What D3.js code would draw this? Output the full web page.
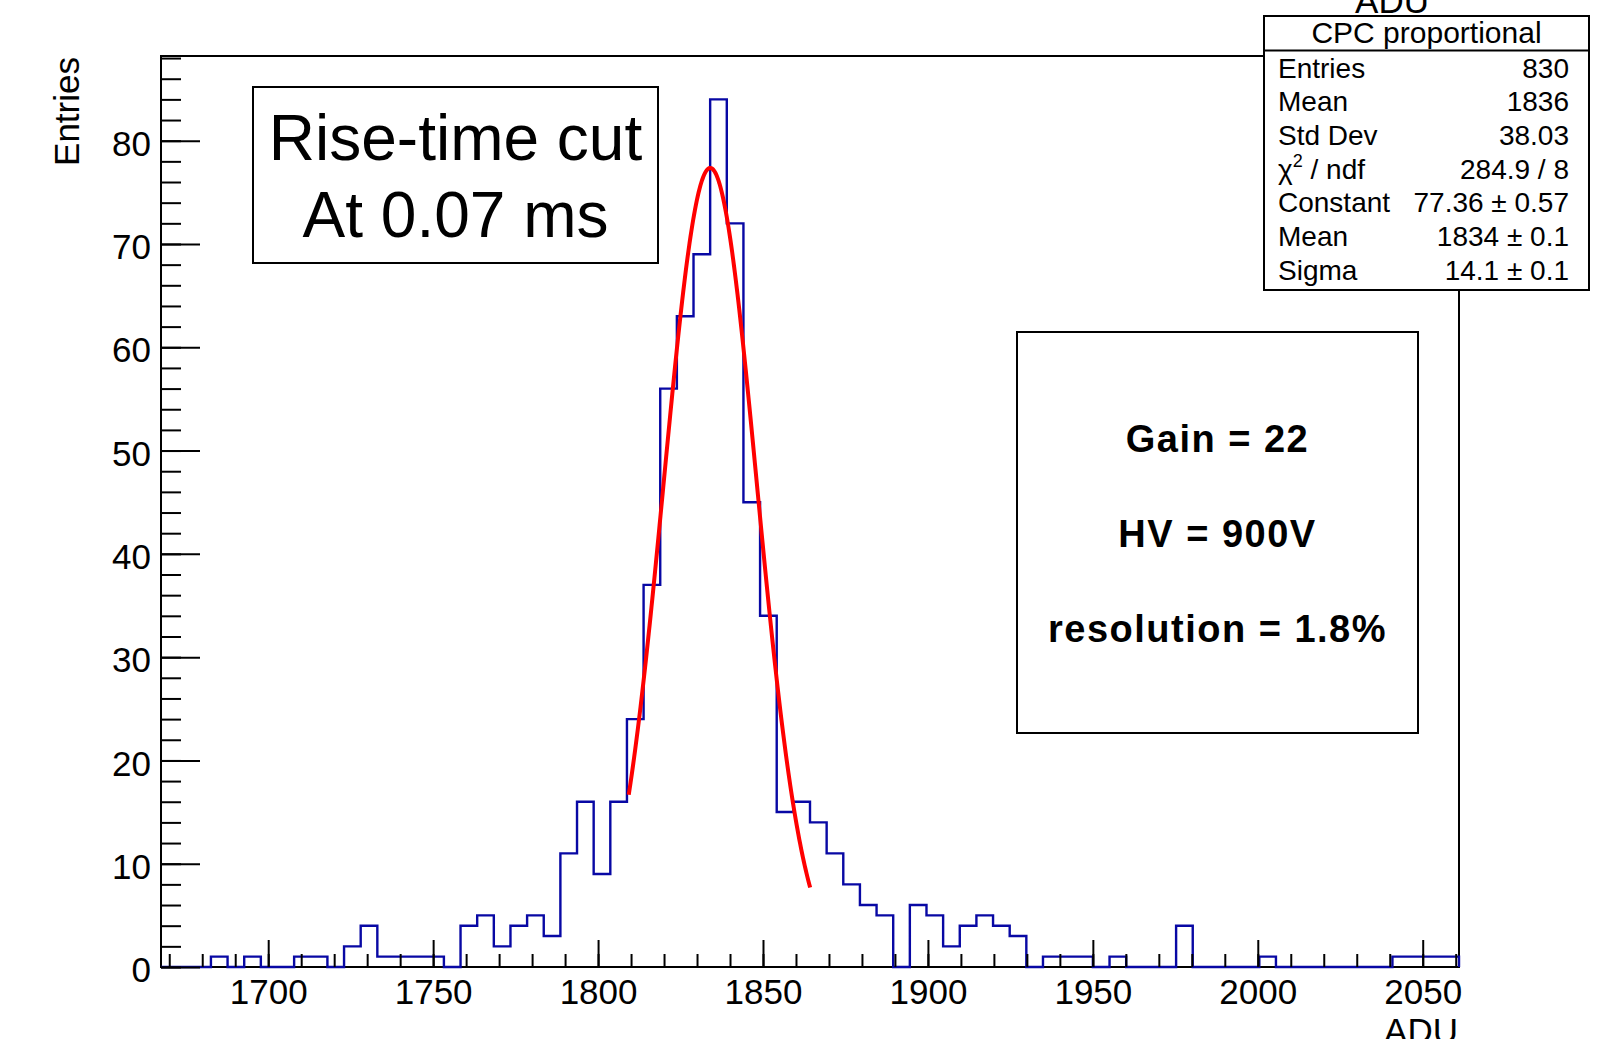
<!DOCTYPE html>
<html>
<head>
<meta charset="utf-8">
<script src="https://cdn.jsdelivr.net/npm/d3@7"></script>
<style>
body { margin: 0; background: #fff; }
svg { display: block; font-family: "Liberation Sans", Arial, Helvetica, sans-serif; }
</style>
</head>
<body>
<svg width="1610" height="1039"></svg>
<script>
// histogram range (ADU) and bin contents
var xRange = [1667.5, 2061];
var yMax = 88.2;
var counts = [0, 0, 0, 1, 0, 1, 0, 0, 1, 1,
              0, 2, 4, 1, 1, 1, 1, 0, 4, 5,
              2, 4, 5, 3, 11, 16, 9, 16, 24, 37,
              56, 63, 69, 84, 72, 45, 34, 15, 16, 14,
              11, 8, 6, 5, 0, 6, 5, 2, 4, 5,
              4, 3, 0, 1, 1, 1, 0, 1, 0, 0,
              0, 4, 0, 0, 0, 0, 1, 0, 0, 0,
              0, 0, 0, 0, 1, 1, 1, 1];

var xMajorTicks = [1700, 1750, 1800, 1850, 1900, 1950, 2000, 2050];
var xMinorTicks = [1670, 1680, 1690, 1700, 1710, 1720, 1730, 1740, 1750, 1760, 1770, 1780, 1790,
                   1800, 1810, 1820, 1830, 1840, 1850, 1860, 1870, 1880, 1890, 1900, 1910, 1920,
                   1930, 1940, 1950, 1960, 1970, 1980, 1990, 2000, 2010, 2020, 2030, 2040, 2050, 2060];
var yMajorTicks = [0, 10, 20, 30, 40, 50, 60, 70, 80];
var yMinorTicks = [0, 2, 4, 6, 8, 10, 12, 14, 16, 18, 20, 22, 24, 26, 28, 30, 32, 34, 36, 38, 40,
                   42, 44, 46, 48, 50, 52, 54, 56, 58, 60, 62, 64, 66, 68, 70, 72, 74, 76, 78, 80,
                   82, 84, 86, 88];

// gaussian fit (from the stats box)
var fitConstant = 77.36;
var fitMean = 1834;
var fitSigma = 14.1;
var fitRange = [1809.3, 1864.3];

var statsTitle = "CPC proportional";
var statNames = ["Entries", "Mean", "Std Dev", "chi2", "Constant", "Mean", "Sigma"];
var statValues = ["830", "1836", "38.03", "284.9 / 8", "77.36 \u00b1 0.57", "1834 \u00b1 0.1", "14.1 \u00b1 0.1"];

var cutLines = ["Rise-time cut", "At 0.07 ms"];
var gainLines = ["Gain = 22", "HV = 900V", "resolution = 1.8%"];

var svg = d3.select("svg");
var frame = { left: 161, top: 56, right: 1459, bottom: 967 };

var x = d3.scaleLinear().domain(xRange).range([frame.left, frame.right]);
var y = d3.scaleLinear().domain([0, yMax]).range([frame.bottom, frame.top]);

// frame
svg.append("rect")
    .attr("x", frame.left).attr("y", frame.top)
    .attr("width", frame.right - frame.left).attr("height", frame.bottom - frame.top)
    .attr("fill", "none").attr("stroke", "#000").attr("stroke-width", 2);

// histogram outline as a step line
var binWidth = (xRange[1] - xRange[0]) / counts.length;
var pts = [[xRange[0], 0]];
counts.forEach(function (c, i) {
    pts.push([xRange[0] + i * binWidth, c]);
    pts.push([xRange[0] + (i + 1) * binWidth, c]);
});
pts.push([xRange[1], 0]);

var line = d3.line()
    .x(function (d) { return x(d[0]); })
    .y(function (d) { return y(d[1]); });

svg.append("path")
    .attr("d", line(pts))
    .attr("fill", "none")
    .attr("stroke", "#0808a4")
    .attr("stroke-width", 2.4);

// fit curve
var fitPts = d3.range(0, 201).map(function (k) {
    var xv = fitRange[0] + (fitRange[1] - fitRange[0]) * k / 200;
    var t = (xv - fitMean) / fitSigma;
    return [xv, fitConstant * Math.exp(-0.5 * t * t)];
});
svg.append("path")
    .attr("d", line(fitPts))
    .attr("fill", "none")
    .attr("stroke", "#ff0000")
    .attr("stroke-width", 4);

// axes
function cleanAxis(g) {
    g.select(".domain").remove();
    g.selectAll(".tick line").attr("stroke", "#000").attr("stroke-width", 2);
}

svg.append("g")
    .attr("transform", "translate(0," + frame.bottom + ")")
    .call(d3.axisBottom(x).tickValues(xMinorTicks).tickSize(-13).tickFormat(""))
    .call(cleanAxis);

var xAxis = svg.append("g")
    .attr("transform", "translate(0," + frame.bottom + ")")
    .call(d3.axisBottom(x).tickValues(xMajorTicks).tickSize(-27).tickPadding(12).tickFormat(d3.format("d")))
    .call(cleanAxis);
xAxis.selectAll("text").attr("font-size", 35).attr("fill", "#000")
    .attr("font-family", "'Liberation Sans', Arial, sans-serif");

svg.append("g")
    .attr("transform", "translate(" + frame.left + ",0)")
    .call(d3.axisLeft(y).tickValues(yMinorTicks).tickSize(-20).tickFormat(""))
    .call(cleanAxis);

var yAxis = svg.append("g")
    .attr("transform", "translate(" + frame.left + ",0)")
    .call(d3.axisLeft(y).tickValues(yMajorTicks).tickSize(-39).tickPadding(10).tickFormat(d3.format("d")))
    .call(cleanAxis);
yAxis.selectAll("text").attr("font-size", 35).attr("fill", "#000").attr("dy", "0.42em")
    .attr("font-family", "'Liberation Sans', Arial, sans-serif");

// axis titles (both cut by the canvas edge, as in the original)
svg.append("text")
    .attr("transform", "translate(79," + (frame.top + 1) + ") rotate(-90)")
    .attr("text-anchor", "end")
    .attr("font-size", 35)
    .text("Entries");

svg.append("text")
    .attr("x", frame.right - 1).attr("y", 1043)
    .attr("text-anchor", "end")
    .attr("font-size", 35)
    .text("ADU");

svg.append("text")
    .attr("x", 1429).attr("y", 13)
    .attr("text-anchor", "end")
    .attr("font-size", 35)
    .text("ADU");

// rise-time cut box
var cutBox = svg.append("g");
cutBox.append("rect")
    .attr("x", 253).attr("y", 87).attr("width", 405).attr("height", 176)
    .attr("fill", "#fff").attr("stroke", "#000").attr("stroke-width", 2);
cutBox.selectAll("text").data(cutLines).enter().append("text")
    .attr("x", 455.5)
    .attr("y", function (d, i) { return 160 + i * 76.7; })
    .attr("text-anchor", "middle")
    .attr("font-size", 64)
    .text(function (d) { return d; });

// gain box
var gainBox = svg.append("g");
gainBox.append("rect")
    .attr("x", 1017).attr("y", 332).attr("width", 401).attr("height", 401)
    .attr("fill", "#fff").attr("stroke", "#000").attr("stroke-width", 2);
gainBox.selectAll("text").data(gainLines).enter().append("text")
    .attr("x", 1217.5)
    .attr("y", function (d, i) { return 451.7 + i * 95; })
    .attr("text-anchor", "middle")
    .attr("font-size", 38)
    .attr("font-weight", "bold")
    .attr("letter-spacing", 1.5)
    .text(function (d) { return d; });

// stats box
var stats = svg.append("g");
stats.append("rect")
    .attr("x", 1264).attr("y", 16).attr("width", 325).attr("height", 274)
    .attr("fill", "#fff").attr("stroke", "#000").attr("stroke-width", 2);
stats.append("line")
    .attr("x1", 1264).attr("x2", 1589).attr("y1", 50.5).attr("y2", 50.5)
    .attr("stroke", "#000").attr("stroke-width", 2);
stats.append("text")
    .attr("x", 1426.5).attr("y", 43)
    .attr("text-anchor", "middle")
    .attr("font-size", 30)
    .text(statsTitle);

statNames.forEach(function (name, i) {
    var yy = 77.5 + i * 33.7;
    var t = stats.append("text")
        .attr("x", 1278).attr("y", yy)
        .attr("font-size", 28);
    if (name === "chi2") {
        t.append("tspan").text("\u03c7");
        t.append("tspan").attr("font-size", 18).attr("dy", -12).text("2");
        t.append("tspan").attr("dy", 12).text(" / ndf");
    } else {
        t.text(name);
    }
    stats.append("text")
        .attr("x", 1569).attr("y", yy)
        .attr("text-anchor", "end")
        .attr("font-size", 28)
        .text(statValues[i]);
});
</script>
</body>
</html>
